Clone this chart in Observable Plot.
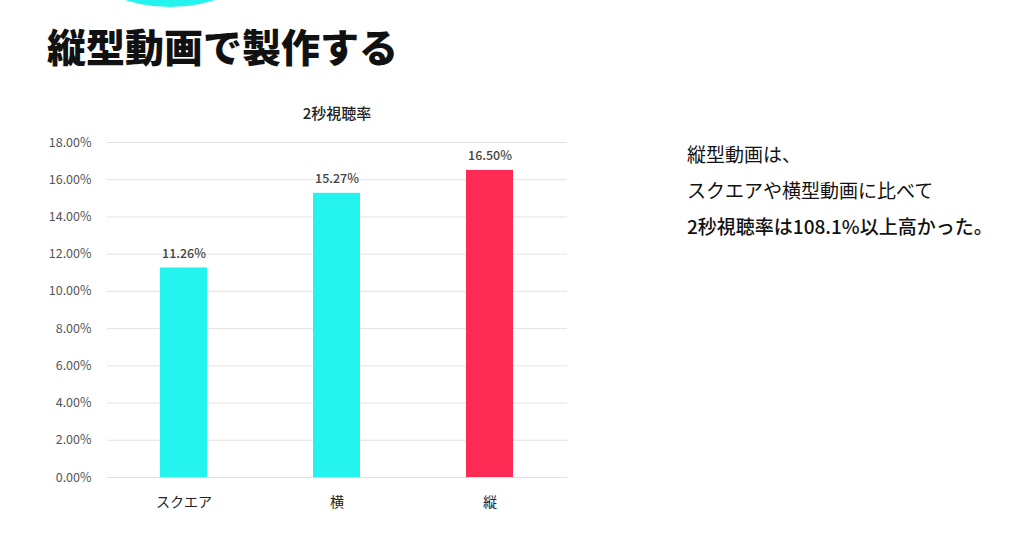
<!DOCTYPE html>
<html>
<head>
<meta charset="utf-8">
<script src="https://cdn.jsdelivr.net/npm/d3@7"></script>
<script src="https://cdn.jsdelivr.net/npm/@observablehq/plot@0.6"></script>
<style>
  html, body { margin: 0; padding: 0; background: #fff; width: 1024px; height: 534px; overflow: hidden; position: relative; font-family: "Noto Sans CJK JP", "Noto Sans", sans-serif; }
  #deco { position: absolute; left: 22px; top: -289px; width: 296px; height: 296px; border-radius: 50%; background: #25F4EE; }
  #title { position: absolute; left: 47px; top: 20px; font-size: 39px; font-weight: 900; color: #111; letter-spacing: 0; line-height: 50px; white-space: nowrap; }
  #ctitle { position: absolute; left: 107px; width: 460px; top: 102px; text-align: center; font-size: 15px; font-weight: 500; color: #222; line-height: 22px; }
  #chart { position: absolute; left: 0; top: 100px; }
  #note { position: absolute; left: 687px; top: 136px; font-size: 19px; color: #111; line-height: 36px; white-space: nowrap; }
  #note .b { font-weight: 500; }
</style>
</head>
<body>
<div id="deco"></div>
<div id="title">縦型動画で製作する</div>
<div id="ctitle">2秒視聴率</div>
<div id="chart"></div>
<div id="note">縦型動画は、<br>スクエアや横型動画に比べて<br><span class="b">2秒視聴率は108.1%以上高かった。</span></div>
<script>
const categories = ["スクエア", "横", "縦"];
const values = [11.26, 15.27, 16.50];
const valueLabels = ["11.26%", "15.27%", "16.50%"];
const barColors = ["#25F4EE", "#25F4EE", "#FE2C55"];
const yTicks = [0, 2, 4, 6, 8, 10, 12, 14, 16, 18];

const data = categories.map((c, i) => ({category: c, value: values[i], label: valueLabels[i]}));

const chart = Plot.plot({
  width: 600,
  height: 427,
  marginTop: 42,
  marginBottom: 50,
  marginLeft: 107,
  marginRight: 33,
  style: { fontFamily: "'Noto Sans CJK JP', 'Noto Sans', sans-serif", background: "transparent" },
  x: { domain: categories, paddingInner: 0.69, paddingOuter: 0.34, label: null },
  y: { domain: [0, 18], label: null },
  color: { domain: categories, range: barColors },
  marks: [
    Plot.gridY(yTicks, { stroke: "#e2e2e2", strokeOpacity: 1, strokeWidth: 1 }),
    Plot.axisY(yTicks, { tickSize: 0, tickPadding: 16, tickFormat: d => d.toFixed(2) + "%", fontSize: 12.5, fill: "#555", label: null }),
    Plot.axisX({ tickSize: 0, tickPadding: 20, fontSize: 14, fill: "#222", label: null }),
    Plot.barY(data, { x: "category", y: "value", fill: "category" }),
    Plot.text(data, { x: "category", y: "value", text: "label", dy: -14, fontSize: 12.5, fontWeight: 500, fill: "#444" })
  ]
});
document.getElementById("chart").appendChild(chart);
</script>
</body>
</html>
